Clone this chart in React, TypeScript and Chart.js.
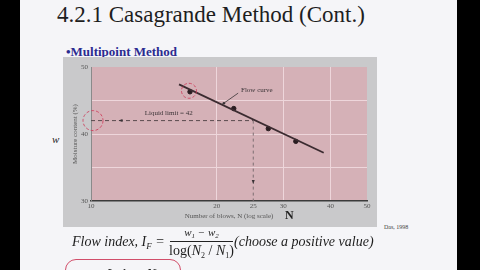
import React, { useEffect, useRef } from "react";
import { Chart, registerables } from "chart.js";

Chart.register(...registerables);

// ---- data ----
const blowsN = [17.0, 22.2, 27.4, 32.4];
const moistureW = [46.3, 43.8, 40.8, 38.9];
const flowCurveN = [15.9, 38.4];
const flowCurveW = [47.4, 37.2];
const liquidLimitN = 25;
const liquidLimitW = 42;
const xAxisMin = 9.3;
const xAxisMax = 50;
const xTickValues = [9.3, 20, 25, 30, 40, 50];
const xTickLabels = ["10", "20", "25", "30", "40", "50"];
const xGridValues = [20, 30, 40];
const yAxisMin = 30;
const yAxisMax = 50;
const yTickLabels = ["30", "40", "50"];
const yGridValues = [35, 40, 45];

const SERIF = "'Liberation Serif', 'DejaVu Serif', serif";
const PINK = "rgb(213,177,183)";
const PANEL = "rgb(201,201,203)";
const GRID = "rgba(238,214,219,1)";

const annotations = {
  id: "annotations",
  beforeDraw(chart: any) {
    const { ctx, chartArea: a, width, height } = chart;
    ctx.save();
    ctx.fillStyle = PANEL;
    ctx.fillRect(0, 0, width, height);
    ctx.fillStyle = PINK;
    ctx.fillRect(a.left, a.top, a.right - a.left, a.bottom - a.top);
    ctx.restore();
  },
  afterDraw(chart: any) {
    const { ctx, scales } = chart;
    const xs = scales.x;
    const ys = scales.y;
    ctx.save();
    ctx.fillStyle = "#3a3336";
    ctx.font = `7px ${SERIF}`;
    ctx.textBaseline = "middle";
    ctx.textAlign = "left";
    ctx.fillText("Liquid limit = 42", xs.getPixelForValue(12.9), ys.getPixelForValue(liquidLimitW) - 7);
    ctx.fillText("Flow curve", xs.getPixelForValue(23.2), ys.getPixelForValue(46.5));
    const lx0 = xs.getPixelForValue(22.8);
    const ly0 = ys.getPixelForValue(46.1);
    const lx1 = xs.getPixelForValue(20.9);
    const ly1 = ys.getPixelForValue(44.6);
    ctx.strokeStyle = "#3a3336";
    ctx.lineWidth = 0.8;
    ctx.beginPath();
    ctx.moveTo(lx0, ly0);
    ctx.lineTo(lx1, ly1);
    ctx.stroke();
    ctx.beginPath();
    ctx.arc(lx1, ly1, 1.3, 0, Math.PI * 2);
    ctx.fillStyle = "#3a3336";
    ctx.fill();
    const ax = xs.getPixelForValue(11.2);
    const ay = ys.getPixelForValue(liquidLimitW);
    ctx.beginPath();
    ctx.moveTo(ax - 3, ay);
    ctx.lineTo(ax + 1, ay - 1.5);
    ctx.lineTo(ax + 1, ay + 1.5);
    ctx.closePath();
    ctx.fill();
    const vx = xs.getPixelForValue(liquidLimitN);
    const vy = ys.getPixelForValue(33);
    ctx.beginPath();
    ctx.moveTo(vx, vy + 3);
    ctx.lineTo(vx - 1.5, vy - 1);
    ctx.lineTo(vx + 1.5, vy - 1);
    ctx.closePath();
    ctx.fill();
    ctx.strokeStyle = "rgba(205,60,90,0.85)";
    ctx.lineWidth = 1;
    ctx.setLineDash([3, 2]);
    ctx.beginPath();
    ctx.arc(xs.left + 2, ys.getPixelForValue(liquidLimitW), 10, 0, Math.PI * 2);
    ctx.stroke();
    ctx.beginPath();
    ctx.arc(xs.getPixelForValue(blowsN[0]) - 1, ys.getPixelForValue(moistureW[0]) - 1, 7.5, 0, Math.PI * 2);
    ctx.stroke();
    ctx.setLineDash([]);
    ctx.fillStyle = "#222";
    ctx.font = `bold 12px ${SERIF}`;
    ctx.textAlign = "left";
    ctx.fillText("N", 222, 159);
    ctx.restore();
  },
};

function FlowChart() {
  const ref = useRef<HTMLCanvasElement | null>(null);
  useEffect(() => {
    if (!ref.current) return;
    const chart = new Chart(ref.current, {
      type: "scatter",
      data: {
        datasets: [
          {
            data: flowCurveN.map((n, i) => ({ x: n, y: flowCurveW[i] })),
            showLine: true,
            borderColor: "#3b2b30",
            borderWidth: 1.8,
            pointRadius: 0,
          },
          {
            data: blowsN.map((n, i) => ({ x: n, y: moistureW[i] })),
            showLine: false,
            pointRadius: 2.2,
            backgroundColor: "#2a1d21",
            borderColor: "#2a1d21",
          },
          {
            data: [
              { x: xAxisMin, y: liquidLimitW },
              { x: liquidLimitN, y: liquidLimitW },
            ],
            showLine: true,
            borderColor: "#5a4a4f",
            borderWidth: 1,
            borderDash: [4, 3],
            pointRadius: 0,
          },
          {
            data: [
              { x: liquidLimitN, y: liquidLimitW },
              { x: liquidLimitN, y: yAxisMin },
            ],
            showLine: true,
            borderColor: "#7d6e72",
            borderWidth: 1,
            borderDash: [3, 3],
            pointRadius: 0,
          },
        ],
      },
      options: {
        responsive: false,
        animation: false,
        devicePixelRatio: 1,
        layout: { padding: { top: 10, right: 10, left: 0, bottom: 0 } },
        plugins: { legend: { display: false }, tooltip: { enabled: false } },
        scales: {
          x: {
            type: "logarithmic",
            min: xAxisMin,
            max: xAxisMax,
            afterBuildTicks: (s: any) => {
              s.ticks = xTickValues.map((v) => ({ value: v }));
            },
            afterFit: (s: any) => {
              s.height = 26;
            },
            ticks: {
              autoSkip: false,
              maxRotation: 0,
              padding: 1,
              color: "#555",
              font: { family: SERIF, size: 7 },
              callback: (_v: any, i: number) => xTickLabels[i],
            },
            grid: {
              drawTicks: false,
              color: (c: any) =>
                c.tick && xGridValues.includes(c.tick.value) ? GRID : "rgba(0,0,0,0)",
            },
            border: { color: "#3b3b3b", width: 1.5 },
            title: {
              display: true,
              text: "Number of blows, N (log scale)",
              color: "#555",
              font: { family: SERIF, size: 7 },
              padding: { top: 0, bottom: 7 },
            },
          },
          y: {
            type: "linear",
            min: yAxisMin,
            max: yAxisMax,
            afterFit: (s: any) => {
              s.width = 28;
            },
            ticks: {
              stepSize: 5,
              padding: 3,
              color: "#555",
              font: { family: SERIF, size: 7 },
              callback: (v: any) => (yTickLabels.includes(String(v)) ? String(v) : ""),
            },
            grid: {
              drawTicks: false,
              color: (c: any) =>
                c.tick && yGridValues.includes(c.tick.value) ? GRID : "rgba(0,0,0,0)",
            },
            border: { color: "#8a8a8a", width: 1 },
            title: {
              display: true,
              text: "Moisture content (%)",
              color: "#555",
              font: { family: SERIF, size: 7 },
              padding: { top: 8, bottom: 0 },
            },
          },
        },
      },
      plugins: [annotations],
    });
    return () => chart.destroy();
  }, []);
  return (
    <canvas
      ref={ref}
      width={314}
      height={170}
      style={{ position: "absolute", left: 63, top: 57, width: 314, height: 170 }}
    />
  );
}

const abs = (s: React.CSSProperties): React.CSSProperties => ({
  position: "absolute",
  whiteSpace: "nowrap",
  fontFamily: SERIF,
  ...s,
});

export default function App() {
  return (
    <div
      style={{
        position: "fixed",
        left: 0,
        top: 0,
        width: 480,
        height: 270,
        overflow: "hidden",
        background: "#000",
      }}
    >
      <div
        style={{ position: "absolute", left: 20, top: 0, width: 437, height: 270, background: "#f5f5f8" }}
      />
      <div style={abs({ left: 57, top: 2, fontSize: 23, lineHeight: "26px", color: "#1e1e1e" })}>
        4.2.1 Casagrande Method (Cont.)
      </div>
      <div
        style={abs({ left: 66, top: 44, fontSize: 13, lineHeight: "16px", fontWeight: "bold", color: "#2b2b90" })}
      >
        •Multipoint Method
      </div>
      <FlowChart />
      <div style={abs({ left: 52, top: 132, fontSize: 11, lineHeight: "14px", fontStyle: "italic", color: "#222" })}>
        w
      </div>
      <div style={abs({ left: 384, top: 223, fontSize: 6, lineHeight: "8px", color: "#444" })}>Das, 1998</div>
      <div style={abs({ left: 72, top: 235, fontSize: 14, lineHeight: "14px", fontStyle: "italic", color: "#1e1e1e" })}>
        Flow index, I<span style={{ fontSize: 9, verticalAlign: "-3px" }}>F</span> =
      </div>
      <div
        style={abs({
          left: 170,
          top: 226,
          width: 63,
          textAlign: "center",
          fontSize: 11,
          lineHeight: "12px",
          fontStyle: "italic",
          color: "#1e1e1e",
        })}
      >
        w<span style={{ fontSize: 7, verticalAlign: "-2px" }}>1</span> − w
        <span style={{ fontSize: 7, verticalAlign: "-2px" }}>2</span>
      </div>
      <div style={{ position: "absolute", left: 170, top: 241, width: 63, height: 1, background: "#222" }} />
      <div
        style={abs({
          left: 168,
          top: 243,
          width: 67,
          textAlign: "center",
          fontSize: 14,
          lineHeight: "15px",
          color: "#1e1e1e",
        })}
      >
        log(<i>N</i>
        <span style={{ fontSize: 8, verticalAlign: "-3px" }}>2</span> / <i>N</i>
        <span style={{ fontSize: 8, verticalAlign: "-3px" }}>1</span>)
      </div>
      <div style={abs({ left: 234, top: 235, fontSize: 14, lineHeight: "14px", fontStyle: "italic", color: "#1e1e1e" })}>
        (choose a positive value)
      </div>
      <div
        style={{
          position: "absolute",
          left: 65,
          top: 259,
          width: 116,
          height: 22,
          border: "1.5px solid rgba(205,60,90,0.9)",
          borderRadius: 11,
          boxSizing: "border-box",
        }}
      />
      <div style={abs({ left: 90, top: 268, fontSize: 14, lineHeight: "14px", color: "#1e1e1e" })}>
        → Index, <i>N</i>
      </div>
    </div>
  );
}
